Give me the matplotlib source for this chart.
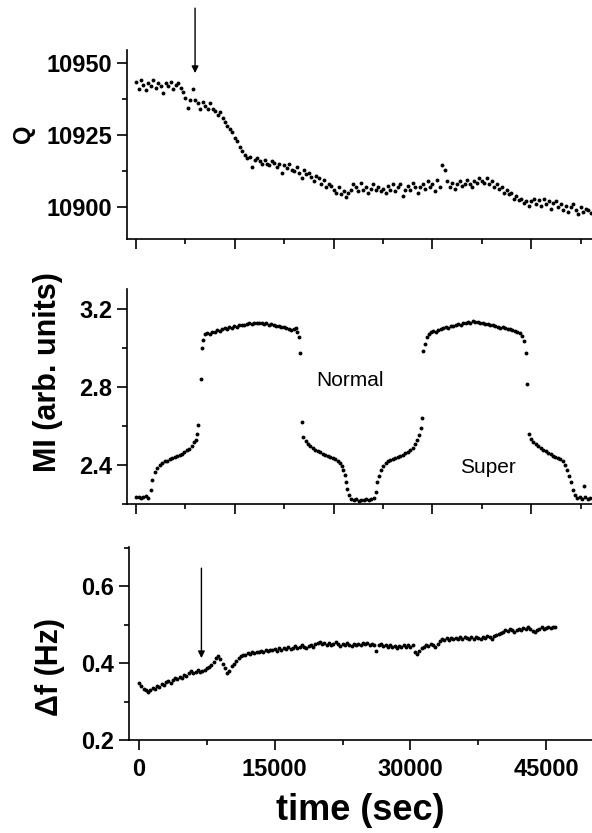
import numpy as np
import matplotlib
matplotlib.use("Agg")
import matplotlib.pyplot as plt
from matplotlib.ticker import MultipleLocator

plt.rcParams['font.family'] = ['Liberation Sans', 'DejaVu Sans']


# ---------- #
# -- DATA -- #
# ---------- #

# Q (top panel), time in the units of the upper x axis
q_time = [
    0, 250, 500, 750, 1000, 1250, 1500, 1750, 2000, 2250, 2500, 2750, 3000, 3250, 3500, 3750, 4000, 4250, 4500, 4750,
    5000, 5250, 5500, 5750, 6000, 6250, 6500, 6750, 7000, 7250, 7500, 7750, 8000, 8250, 8500, 8750, 9000, 9250, 9500, 9750,
    10000, 10250, 10500, 10750, 11000, 11250, 11500, 11750, 12000, 12250, 12500, 12750, 13000, 13250, 13500, 13750, 14000, 14250, 14500, 14750,
    15000, 15250, 15500, 15750, 16000, 16250, 16500, 16750, 17000, 17250, 17500, 17750, 18000, 18250, 18500, 18750, 19000, 19250, 19500, 19750,
    20000, 20250, 20500, 20750, 21000, 21250, 21500, 21750, 22000, 22250, 22500, 22750, 23000, 23250, 23500, 23750, 24000, 24250, 24500, 24750,
    25000, 25250, 25500, 25750, 26000, 26250, 26500, 26750, 27000, 27250, 27500, 27750, 28000, 28250, 28500, 28750, 29000, 29250, 29500, 29750,
    30000, 30250, 30500, 30750, 31000, 31250, 31500, 31750, 32000, 32250, 32500, 32750, 33000, 33250, 33500, 33750, 34000, 34250, 34500, 34750,
    35000, 35250, 35500, 35750, 36000, 36250, 36500, 36750, 37000, 37250, 37500, 37750, 38000, 38250, 38500, 38750, 39000, 39250, 39500, 39750,
    40000, 40250, 40500, 40750, 41000, 41250, 41500, 41750, 42000, 42250, 42500, 42750, 43000, 43250, 43500, 43750, 44000, 44250, 44500, 44750,
    45000, 45250, 45500, 45750, 46000,
]
q_value = [
    10943.5, 10941, 10944, 10942.5, 10940.8, 10943, 10942, 10944, 10941.5, 10943, 10942, 10939.5, 10943, 10942, 10943.5, 10941, 10942.5, 10943, 10941.5, 10940,
    10938, 10934.5, 10937, 10941, 10937, 10936, 10934, 10936.5, 10935, 10934, 10936, 10934, 10933.5, 10932, 10933, 10931, 10929.5, 10928, 10927, 10926,
    10924, 10923, 10921, 10919.5, 10918, 10917, 10917.5, 10914, 10916.5, 10917, 10916, 10915, 10916.5, 10915, 10914.5, 10916, 10915.5, 10914, 10915, 10912,
    10914.5, 10913.5, 10915, 10913, 10912.5, 10914, 10912, 10910, 10913, 10911.5, 10912, 10910.5, 10909, 10911, 10910, 10908, 10909.5, 10907, 10908, 10907.5,
    10906, 10905, 10907, 10904.5, 10905.5, 10903.5, 10905, 10906, 10908, 10907, 10905.5, 10908.5, 10906, 10907, 10905, 10906.5, 10908, 10906, 10907, 10905.5,
    10906.5, 10905, 10907.5, 10906, 10908, 10905.5, 10907, 10908, 10904, 10906, 10907.5, 10906, 10908.5, 10907, 10905, 10907, 10908, 10906.5, 10909, 10907,
    10908, 10905.5, 10909.5, 10907, 10914.5, 10913, 10909, 10907, 10908.5, 10906.5, 10908, 10909, 10907.5, 10908, 10909.5, 10908, 10907, 10909, 10908.5, 10910,
    10909, 10908.5, 10910, 10908, 10909, 10907, 10908, 10906.5, 10907, 10905, 10906, 10904.5, 10905, 10903, 10904, 10902.5, 10903, 10901.5, 10902, 10900.5,
    10902, 10903, 10901, 10902.5, 10900.5, 10903, 10901, 10902, 10899.5, 10901.5, 10902, 10900, 10901, 10899, 10900.5, 10898.5, 10900, 10901, 10899, 10897.5,
    10900, 10898.5, 10899.5, 10899, 10898,
]

# MI (middle panel), (time, value)
mi_points = [
    (0, 2.234), (250, 2.238), (500, 2.231), (750, 2.236), (1000, 2.240), (1250, 2.233),
    (1500, 2.27), (1650, 2.323), (1900, 2.364), (2150, 2.385), (2400, 2.398), (2650, 2.41),
    (2900, 2.418), (3150, 2.422), (3400, 2.430), (3650, 2.435), (3900, 2.440), (4150, 2.446),
    (4400, 2.452), (4650, 2.458), (4900, 2.466), (5150, 2.474), (5400, 2.482), (5650, 2.497),
    (5900, 2.515), (6050, 2.53), (6200, 2.56), (6300, 2.605), (6600, 2.84), (6700, 3.0),
    (6800, 3.04), (6950, 3.068), (7200, 3.077),
    (7450, 3.072), (7700, 3.082), (7950, 3.079), (8200, 3.088), (8450, 3.085), (8700, 3.094),
    (8950, 3.098), (9200, 3.095), (9450, 3.104), (9700, 3.101), (9950, 3.110), (10200, 3.107),
    (10450, 3.114), (10700, 3.118), (10950, 3.115), (11200, 3.122), (11450, 3.124), (11700, 3.121),
    (11950, 3.127), (12200, 3.128), (12450, 3.125), (12700, 3.126), (12950, 3.122), (13200, 3.124),
    (13450, 3.118), (13700, 3.120), (13950, 3.114), (14200, 3.111), (14450, 3.113), (14700, 3.106),
    (14950, 3.104), (15200, 3.100), (15450, 3.096), (15700, 3.090), (15950, 3.093), (16150, 3.098),
    (16300, 3.082), (16450, 3.055), (16600, 2.975), (16750, 2.618), (16900, 2.545),
    (17150, 2.522), (17400, 2.508), (17650, 2.496), (17900, 2.487), (18150, 2.478), (18400, 2.470),
    (18650, 2.466), (18900, 2.458), (19150, 2.452), (19400, 2.447), (19650, 2.441), (19900, 2.436),
    (20150, 2.428), (20400, 2.420), (20600, 2.410), (20800, 2.395), (20950, 2.375), (21100, 2.350),
    (21250, 2.315), (21400, 2.275), (21550, 2.245),
    (21800, 2.228), (22050, 2.220), (22300, 2.226), (22550, 2.215), (22800, 2.222), (23050, 2.218),
    (23300, 2.228), (23550, 2.219), (23800, 2.225), (24050, 2.232), (24250, 2.26),
    (24400, 2.31), (24550, 2.345), (24750, 2.375), (25000, 2.395), (25250, 2.412), (25500, 2.420),
    (25750, 2.425), (26000, 2.432), (26250, 2.436), (26500, 2.441), (26750, 2.447), (27000, 2.452),
    (27250, 2.459), (27500, 2.466), (27750, 2.475), (28000, 2.488), (28250, 2.505), (28450, 2.525),
    (28650, 2.555), (28800, 2.590), (28950, 2.640), (29050, 2.985), (29200, 3.02), (29400, 3.055),
    (29600, 3.072),
    (29850, 3.078), (30100, 3.085), (30350, 3.082), (30600, 3.090), (30850, 3.094), (31100, 3.098),
    (31350, 3.104), (31600, 3.101), (31850, 3.110), (32100, 3.113), (32350, 3.116), (32600, 3.120),
    (32850, 3.118), (33100, 3.125), (33350, 3.127), (33600, 3.131), (33850, 3.128), (34100, 3.135),
    (34350, 3.131), (34600, 3.129), (34850, 3.126), (35100, 3.128), (35350, 3.121), (35600, 3.119),
    (35850, 3.115), (36100, 3.117), (36350, 3.110), (36600, 3.108), (36850, 3.103), (37100, 3.105),
    (37350, 3.098), (37600, 3.094), (37850, 3.096), (38100, 3.088), (38350, 3.085), (38600, 3.080),
    (38850, 3.075), (39050, 3.060), (39250, 3.035), (39450, 2.975), (39600, 2.815), (39750, 2.560),
    (39950, 2.535), (40200, 2.518), (40450, 2.505), (40700, 2.495), (40950, 2.486), (41200, 2.478),
    (41450, 2.470), (41700, 2.463), (41950, 2.455), (42200, 2.448), (42450, 2.441), (42700, 2.435),
    (42950, 2.428), (43200, 2.418), (43400, 2.400), (43600, 2.375), (43800, 2.345), (44000, 2.315),
    (44200, 2.270), (44400, 2.245),
    (44650, 2.232), (44900, 2.238), (45150, 2.228), (45300, 2.290), (45450, 2.235), (45700, 2.226),
    (45950, 2.232),
]

# delta f (bottom panel), time in sec
df_time = q_time
df_value = [
    0.348, 0.340, 0.333, 0.329, 0.325, 0.331, 0.336, 0.333, 0.340, 0.338, 0.345, 0.342, 0.350, 0.353, 0.349, 0.356, 0.361, 0.358, 0.365, 0.362,
    0.370, 0.367, 0.375, 0.380, 0.373, 0.378, 0.382, 0.376, 0.379, 0.381, 0.386, 0.391, 0.396, 0.404, 0.412, 0.418, 0.410, 0.398, 0.388, 0.374,
    0.380, 0.392, 0.398, 0.405, 0.412, 0.418, 0.422, 0.420, 0.426, 0.424, 0.428, 0.425, 0.430, 0.428, 0.432, 0.430, 0.434, 0.431, 0.435, 0.433,
    0.436, 0.432, 0.438, 0.435, 0.440, 0.437, 0.442, 0.436, 0.440, 0.444, 0.439, 0.442, 0.446, 0.441, 0.438, 0.444, 0.447, 0.443, 0.449, 0.452,
    0.455, 0.450, 0.453, 0.448, 0.452, 0.446, 0.450, 0.454, 0.449, 0.445, 0.451, 0.447, 0.452, 0.448, 0.444, 0.450, 0.446, 0.451, 0.448, 0.453,
    0.449, 0.452, 0.447, 0.451, 0.446, 0.432, 0.446, 0.450, 0.445, 0.448, 0.443, 0.446, 0.441, 0.444, 0.440, 0.445, 0.442, 0.446, 0.441, 0.447,
    0.443, 0.446, 0.428, 0.424, 0.431, 0.438, 0.442, 0.448, 0.445, 0.450, 0.446, 0.441, 0.450, 0.458, 0.462, 0.459, 0.465, 0.461, 0.466, 0.463,
    0.466, 0.462, 0.467, 0.464, 0.468, 0.465, 0.463, 0.467, 0.464, 0.469, 0.466, 0.463, 0.468, 0.465, 0.470, 0.467, 0.464, 0.470, 0.473, 0.476,
    0.479, 0.482, 0.486, 0.483, 0.488, 0.485, 0.481, 0.487, 0.490, 0.486, 0.492, 0.488, 0.494, 0.489, 0.484, 0.480, 0.486, 0.490, 0.493, 0.488,
    0.492, 0.495, 0.491, 0.494, 0.493,
]

mi_time, mi_value = np.array(mi_points).T


# ----------- #
# -- STYLE -- #
# ----------- #

W, H = 592, 833
tick_size = 17
label_font = dict(fontsize=22, fontweight='bold')


def frac(left, top, right, bottom):
    return [left / W, 1 - bottom / H, (right - left) / W, (bottom - top) / H]


def styleAxes(ax, xmajor, ymajor, xlabels=False):
    for side in ('top', 'right'):
        ax.spines[side].set_visible(False)
    for side in ('left', 'bottom'):
        ax.spines[side].set_linewidth(1.2)
    ax.xaxis.set_major_locator(MultipleLocator(xmajor))
    ax.xaxis.set_minor_locator(MultipleLocator(xmajor / 2))
    ax.yaxis.set_major_locator(MultipleLocator(ymajor))
    ax.yaxis.set_minor_locator(MultipleLocator(ymajor / 2))
    ax.tick_params(which='major', direction='out', length=7, width=1.2, pad=3.5,
                   labelsize=tick_size)
    ax.tick_params(which='minor', direction='out', length=3.6, width=1.2)
    ax.tick_params(axis='x', which='major', pad=6, labelbottom=xlabels)
    for lab in ax.get_yticklabels() + ax.get_xticklabels():
        lab.set_fontweight('bold')


fig = plt.figure(figsize=(W / 100, H / 100), dpi=100)

dot = dict(linestyle='none', marker='o', markersize=2.8, color='black', markeredgewidth=0)

# Q
ax1 = fig.add_axes(frac(127, 50, 592, 239))
ax1.plot(q_time, q_value, **dot)
ax1.set_xlim(-920, 46150)
ax1.set_ylim(10889, 10954.5)
styleAxes(ax1, 10000, 25)
ax1.annotate('', xy=(5970, 10946.5), xytext=(5970, 10969), annotation_clip=False,
             arrowprops=dict(arrowstyle='-|>', color='black', lw=1.0,
                             mutation_scale=10, shrinkA=0, shrinkB=0))

# MI
ax2 = fig.add_axes(frac(127, 289, 592, 504))
ax2.plot(mi_time, mi_value, **dot)
ax2.set_xlim(-920, 46150)
ax2.set_ylim(2.2, 3.3)
styleAxes(ax2, 10000, 0.4)
ax2.text(18200, 2.83, 'Normal', fontsize=15, ha='left', va='center')
ax2.text(32800, 2.385, 'Super', fontsize=15, ha='left', va='center')

# delta f
ax3 = fig.add_axes(frac(129, 547, 592, 740))
ax3.plot(df_time, df_value, **dot)
ax3.set_xlim(-1105, 50075)
ax3.set_ylim(0.2, 0.702)
ax3.set_xticks([0, 15000, 30000, 45000])
styleAxes(ax3, 15000, 0.2, xlabels=True)
ax3.annotate('', xy=(6900, 0.413), xytext=(6900, 0.647),
             arrowprops=dict(arrowstyle='-|>', color='black', lw=1.0,
                             mutation_scale=10, shrinkA=0, shrinkB=0))

# axis labels
fig.text(24 / W, 1 - 134 / H, 'Q', rotation=90, ha='center', va='center',
         fontsize=17, fontweight='bold')
fig.text(48 / W, 1 - 372 / H, 'MI (arb. units)', rotation=90, ha='center', va='center', **label_font)
fig.text(50 / W, 1 - 667 / H, '\u0394f (Hz)', rotation=90, ha='center', va='center', **label_font)
fig.text(360 / W, 1 - 810 / H, 'time (sec)', ha='center', va='center', fontsize=26, fontweight='bold')

fig.savefig('out.png', dpi=100)
